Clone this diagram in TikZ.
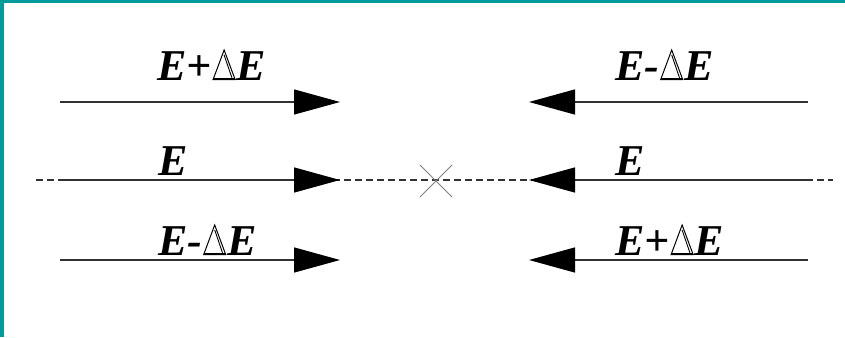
\documentclass[tikz,border=0pt]{standalone}
\usepackage{fontspec}
\setmainfont{Liberation Serif}
\usetikzlibrary{arrows.meta}
\definecolor{frameteal}{RGB}{0,155,155}
\definecolor{linegray}{RGB}{50,50,50}
\definecolor{crossgray}{RGB}{128,128,128}
\newsavebox{\deltabox}
\sbox{\deltabox}{\begin{tikzpicture}[x=1pt,y=1pt,baseline=0pt]
  \draw[line width=1pt,line join=miter] (0.5,0.5) -- (11.5,30) -- (22.5,0.5) -- cycle;
  \draw[line width=0.9pt] (11.5,25) -- (19.3,2.2);
  \draw[line width=1.2pt] (1,1.2) -- (22,1.2);
\end{tikzpicture}}
\newcommand{\dE}{\hspace{1pt}\usebox{\deltabox}\hspace{1pt}}
\begin{document}
\begin{tikzpicture}[x=1pt,y=-1pt,
  beam/.style={draw=linegray,line width=1.3pt,-{Triangle[length=46pt,width=25pt,fill=black,color=black]}},
  axisline/.style={draw=linegray,line width=1.2pt,dash pattern=on 7pt off 4pt},
  lbl/.style={anchor=base west,inner sep=0pt,font=\fontsize{44}{46}\selectfont\bfseries\itshape},
  crossline/.style={draw=crossgray,line width=0.9pt}]
\useasboundingbox (0,0) rectangle (845,337);
\fill[white] (0,0) rectangle (845,337);
\fill[frameteal] (0,0) rectangle (845,3);
\fill[frameteal] (0,0) rectangle (4,337);
% coordinates
\coordinate (tl0) at (60,102);  \coordinate (tl1) at (340,102);
\coordinate (tr0) at (808,102); \coordinate (tr1) at (529,102);
\coordinate (ml0) at (59,180);  \coordinate (ml1) at (340,180);
\coordinate (mr0) at (808,180); \coordinate (mr1) at (529,180);
\coordinate (bl0) at (60,260);  \coordinate (bl1) at (340,260);
\coordinate (br0) at (808,260); \coordinate (br1) at (529,260);
\coordinate (ax0) at (36,180);  \coordinate (ax1) at (833,180);
\coordinate (cx) at (436,181);
% axis
\draw[axisline] (ax0) -- (ax1);
% beams
\draw[beam] (tl0) -- (tl1);
\draw[beam] (tr0) -- (tr1);
\draw[beam] (ml0) -- (ml1);
\draw[beam] (mr0) -- (mr1);
\draw[beam] (bl0) -- (bl1);
\draw[beam] (br0) -- (br1);
% cross
\draw[crossline] ([shift={(-16,-16)}]cx) -- ([shift={(16,16)}]cx);
\draw[crossline] ([shift={(-16,16)}]cx) -- ([shift={(16,-16)}]cx);
% labels
\node[lbl] (ltl) at (157,80) {E+\dE E};
\node[lbl] (ltr) at (615,80) {E-\dE E};
\node[lbl] (lml) at (158,175) {E};
\node[lbl] (lmr) at (615,175) {E};
\node[lbl] (lbl) at (158,255) {E-\dE E};
\node[lbl] (lbr) at (615,255) {E+\dE E};
\end{tikzpicture}
\end{document}
